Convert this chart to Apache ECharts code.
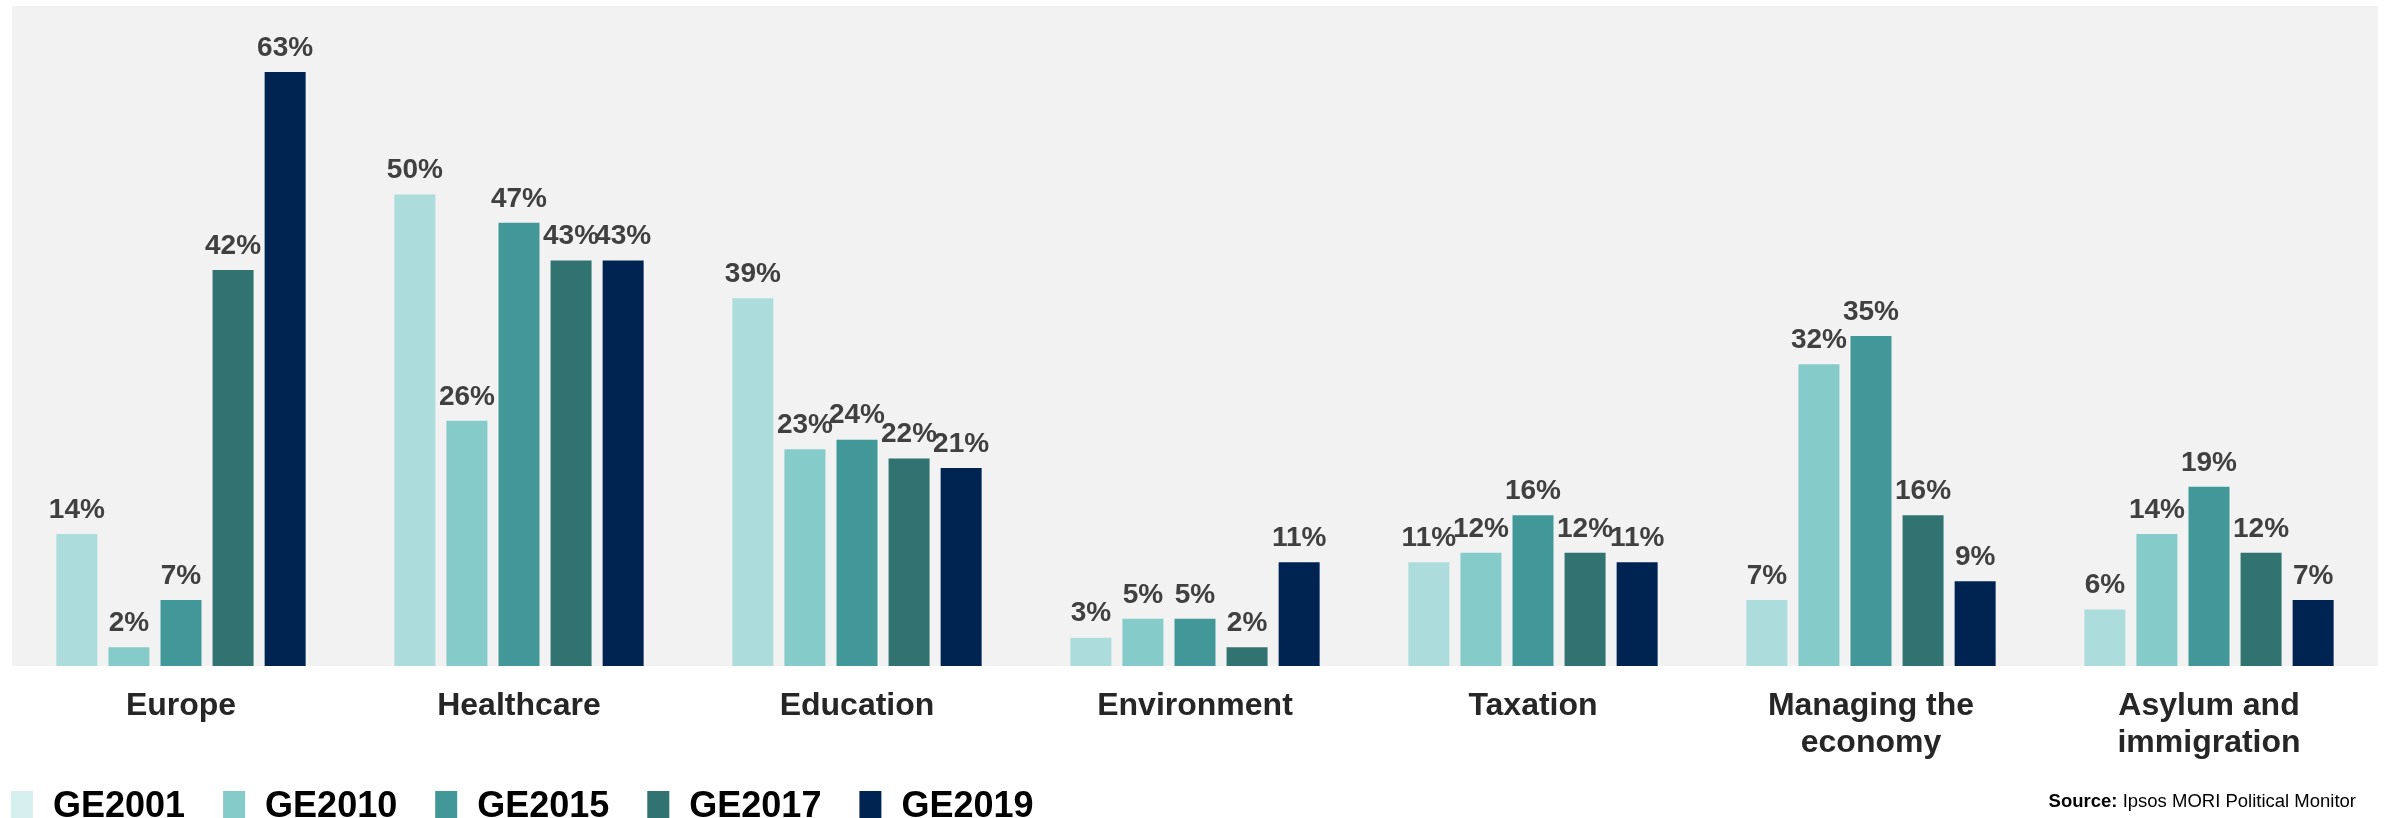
<!DOCTYPE html>
<html>
<head>
<meta charset="utf-8">
<script src="https://cdn.jsdelivr.net/npm/echarts@6/dist/echarts.min.js"></script>
<style>
  html, body { margin: 0; padding: 0; background: #ffffff; }
  #chart { width: 2386px; height: 818px; }
</style>
</head>
<body>
<div id="chart"></div>
<script>
// issues, one per category
const categories = ['Europe', 'Healthcare', 'Education', 'Environment', 'Taxation', 'Managing the\neconomy', 'Asylum and\nimmigration'];
const elections = ['GE2001', 'GE2010', 'GE2015', 'GE2017', 'GE2019'];

const ge2001 = [14, 50, 39, 3, 11, 7, 6];
const ge2010 = [2, 26, 23, 5, 12, 32, 14];
const ge2015 = [7, 47, 24, 5, 16, 35, 19];
const ge2017 = [42, 43, 22, 2, 12, 16, 12];
const ge2019 = [63, 43, 21, 11, 11, 9, 7];

const colors = ['#addcdc', '#84cbca', '#429898', '#307370', '#002452'];
const legendColors = ['#d5eeee', '#84cbca', '#429898', '#307370', '#002452'];

const allValues = [ge2001, ge2010, ge2015, ge2017, ge2019];

const chart = echarts.init(document.getElementById('chart'));

const series = elections.map((name, i) => ({
  name: name,
  type: 'bar',
  data: allValues[i],
  barWidth: 41,
  barGap: '27%',
  itemStyle: { color: colors[i] },
  label: {
    show: true,
    position: 'top',
    distance: 10,
    formatter: '{c}%',
    color: '#404040',
    fontSize: 28,
    fontWeight: 'bold',
    fontFamily: 'Liberation Sans, Arial, sans-serif'
  },
  emphasis: { disabled: true }
}));

chart.setOption({
  animation: false,
  backgroundColor: '#ffffff',
  grid: {
    left: 12,
    right: 8,
    top: 6,
    bottom: 152,
    show: true,
    backgroundColor: '#f2f2f2',
    borderWidth: 0
  },
  legend: {
    left: 6,
    top: 784,
    itemWidth: 22,
    itemHeight: 32,
    itemGap: 38,
    icon: 'rect',
    data: elections.map((name, i) => ({ name: name, itemStyle: { color: legendColors[i] } })),
    textStyle: {
      color: '#000000',
      fontSize: 36,
      fontWeight: 'bold',
      fontFamily: 'Liberation Sans, Arial, sans-serif',
      padding: [0, 0, 0, 15]
    }
  },
  xAxis: {
    type: 'category',
    data: categories,
    axisLine: { show: false },
    axisTick: { show: false },
    axisLabel: {
      interval: 0,
      margin: 22,
      color: '#262626',
      fontSize: 32,
      lineHeight: 37,
      fontWeight: 'bold',
      fontFamily: 'Liberation Sans, Arial, sans-serif'
    }
  },
  yAxis: {
    type: 'value',
    min: 0,
    max: 70,
    show: false,
    splitLine: { show: false }
  },
  graphic: [{
    type: 'text',
    right: 30,
    top: 792,
    style: {
      text: '{b|Source:} Ipsos MORI Political Monitor',
      rich: {
        b: { fontWeight: 'bold', fontSize: 18.5, fill: '#000000', fontFamily: 'Liberation Sans, Arial, sans-serif' }
      },
      fontSize: 18.5,
      fill: '#000000',
      fontFamily: 'Liberation Sans, Arial, sans-serif'
    }
  }],
  series: series
});
</script>
</body>
</html>
